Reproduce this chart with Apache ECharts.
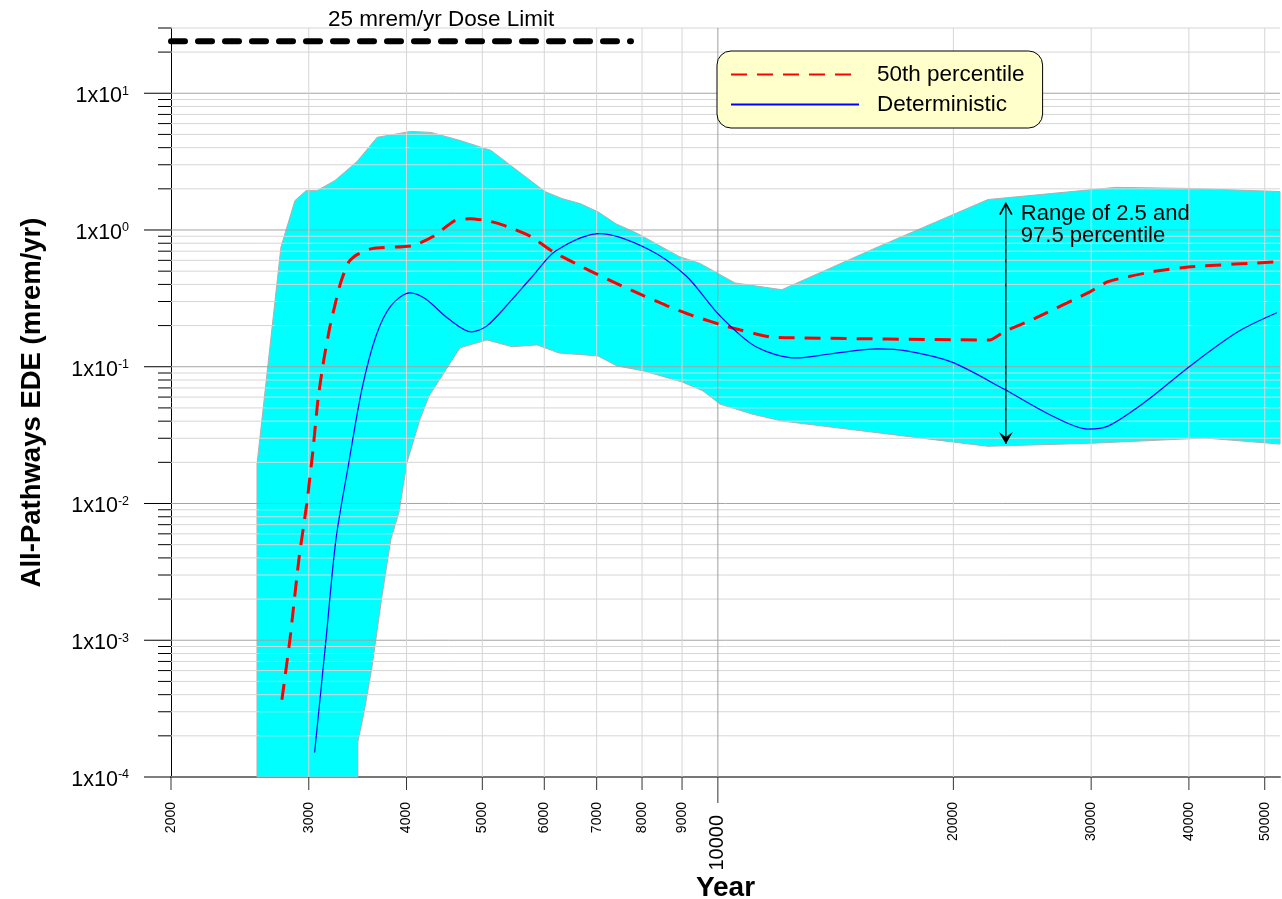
<!DOCTYPE html>
<html><head><meta charset="utf-8">
<script src="https://cdn.jsdelivr.net/npm/echarts@6/dist/echarts.min.js"></script>
<style>html,body{margin:0;padding:0;background:#fff}#c{width:1282px;height:899px}</style>
</head><body><div id="c"></div>
<script>
const FONT = 'Arial, "Liberation Sans", Helvetica, sans-serif';

// ---- axes ----
const X_MIN = 2000, X_MAX = 52300, Y_MIN = 1e-4, Y_MAX = 30;
const xTickYears = [2000, 3000, 4000, 5000, 6000, 7000, 8000, 9000, 10000, 20000, 30000, 40000, 50000];
const xBigTick = 10000;
const yDecades = [1e-4, 1e-3, 1e-2, 1e-1, 1, 10];
const yMinorMultipliers = [2, 3, 4, 5, 6, 7, 8, 9];

// ---- 2.5 / 97.5 percentile band ----
const bandUpperYear  = [2576, 2576, 2764, 2880, 2976, 3074, 3240, 3458, 3668, 4052, 4298, 4682, 5129, 6012, 6318, 6665, 7026, 7409, 7904, 8921, 9487, 10516, 12072, 15826, 22140, 32267, 40583, 52300];
const bandUpperValue = [1e-4, 0.0194, 0.75, 1.64, 1.94, 1.94, 2.30, 3.17, 4.76, 5.26, 5.17, 4.52, 3.82, 1.91, 1.70, 1.56, 1.36, 1.11, 0.94, 0.64, 0.57, 0.41, 0.366, 0.73, 1.67, 2.05, 2.01, 1.91];
const bandLowerYear  = [3467, 3467, 3529, 3614, 3716, 3820, 3912, 4006, 4163, 4274, 4682, 5068, 5458, 5874, 6264, 7026, 7430, 8044, 8996, 9572, 10060, 11056, 12072, 20030, 22140, 30160, 41920, 52300];
const bandLowerValue = [1e-4, 1.81e-4, 2.94e-4, 6.4e-4, 1.99e-3, 5.47e-3, 8.6e-3, 0.0200, 0.0414, 0.0611, 0.1375, 0.157, 0.140, 0.1445, 0.126, 0.120, 0.1014, 0.0931, 0.0775, 0.0666, 0.0533, 0.0451, 0.0401, 0.0281, 0.0262, 0.0276, 0.0301, 0.0272];

// ---- 50th percentile ----
const p50Year  = [2772, 2838, 2914, 2984, 3038, 3083, 3137, 3194, 3250, 3298, 3376, 3458, 3614, 4077, 4324, 4612, 4822, 5068, 5330, 5768, 6154, 6864, 7430, 8044, 8610, 9294, 10300, 11660, 12182, 22270, 23200, 25340, 29890, 31520, 35980, 40583, 52300];
const p50Value = [3.67e-4, 1.01e-3, 3.90e-3, 0.0102, 0.0249, 0.0581, 0.114, 0.199, 0.303, 0.419, 0.586, 0.661, 0.731, 0.769, 0.896, 1.17, 1.21, 1.17, 1.08, 0.896, 0.695, 0.503, 0.405, 0.330, 0.279, 0.236, 0.196, 0.165, 0.163, 0.157, 0.180, 0.224, 0.353, 0.419, 0.496, 0.540, 0.586];

// ---- deterministic ----
const detYear  = [3052, 3156, 3250, 3376, 3508, 3656, 3820, 4040, 4229, 4526, 4842, 5068, 5426, 5803, 6210, 7066, 8126, 9104, 10060, 11186, 12600, 13908, 16014, 17494, 19912, 23200, 26800, 29700, 31520, 35140, 40120, 46200, 51820];
const detValue = [1.51e-4, 1.01e-3, 5.47e-3, 0.0200, 0.0687, 0.168, 0.279, 0.347, 0.314, 0.224, 0.180, 0.199, 0.299, 0.463, 0.706, 0.942, 0.73, 0.463, 0.236, 0.140, 0.116, 0.124, 0.135, 0.130, 0.108, 0.0687, 0.0435, 0.0350, 0.0368, 0.0552, 0.101, 0.180, 0.248];

// ---- dose limit & annotation ----
const doseLimitYear = [2000, 7744];
const doseLimitValue = [24, 24];
const annotationYear = 23340;
const annotationRange = [0.0272, 1.56];

const zip = (a, b) => a.map((v, i) => [v, b[i]]);

function bandRender(params, api) {
  const pts = [];
  for (let i = 0; i < bandUpperYear.length; i++) pts.push(api.coord([bandUpperYear[i], bandUpperValue[i]]));
  for (let i = bandLowerYear.length - 1; i >= 0; i--) pts.push(api.coord([bandLowerYear[i], bandLowerValue[i]]));
  return { type: 'polygon', shape: { points: pts }, style: { fill: '#00ffff', stroke: '#b0b0b0', lineWidth: 1 } };
}

function frameRender(params, api) {
  const ch = [];
  const line = (p1, p2, color, w) => ch.push({ type: 'line', shape: { x1: p1[0], y1: p1[1], x2: p2[0], y2: p2[1] }, style: { stroke: color, lineWidth: w || 1 } });
  yDecades.forEach(d => {
    const p = api.coord([X_MIN, d]);
    const q = api.coord([X_MAX, d]);
    if (d > Y_MIN) line([p[0], p[1]], [q[0], q[1]], '#a4a4a4');
    line([p[0] - 27, p[1]], [p[0], p[1]], '#000');
    yMinorMultipliers.forEach(m => {
      const v = d * m;
      if (v > Y_MAX + 1e-9) return;
      const a = api.coord([X_MIN, v]);
      const b = api.coord([X_MAX, v]);
      line([a[0], a[1]], [b[0], b[1]], '#d6d6d6');
      line([a[0] - 13, a[1]], [a[0], a[1]], '#000');
    });
  });
  xTickYears.forEach(yr => {
    const b = api.coord([yr, Y_MIN]);
    const t = api.coord([yr, Y_MAX]);
    const big = yr === xBigTick;
    if (yr > X_MIN) line([b[0], b[1]], [t[0], t[1]], big ? '#a0a0a0' : '#d6d6d6');
    line([b[0], b[1]], [b[0], b[1] + (big ? 26 : 13)], '#333');
    ch.push({
      type: 'text', x: b[0], y: b[1] + (big ? 38 : 25), rotation: Math.PI / 2,
      style: { text: String(yr), fontSize: big ? 20 : 14, fontFamily: FONT, fill: '#000', align: 'right', verticalAlign: 'middle' }
    });
  });
  return { type: 'group', children: ch };
}

function annotationRender(params, api) {
  const lo = api.coord([annotationYear, annotationRange[0]]);
  const hi = api.coord([annotationYear, annotationRange[1]]);
  return {
    type: 'group', children: [
      { type: 'line', shape: { x1: lo[0], y1: lo[1], x2: hi[0], y2: hi[1] }, style: { stroke: '#000', lineWidth: 1.3 } },
      { type: 'polyline', shape: { points: [[hi[0] - 6, hi[1] + 11], [hi[0], hi[1]], [hi[0] + 6, hi[1] + 11]] }, style: { stroke: '#000', lineWidth: 1.8, fill: null } },
      { type: 'polygon', shape: { points: [[lo[0], lo[1]], [lo[0] - 7, lo[1] - 12], [lo[0], lo[1] - 7], [lo[0] + 7, lo[1] - 12]] }, style: { fill: '#000' } },
      { type: 'text', x: hi[0] + 15, y: hi[1] - 1, style: { text: 'Range of 2.5 and\n97.5 percentile', fontSize: 22, fontFamily: FONT, fill: '#000', lineHeight: 22, verticalAlign: 'top', align: 'left' } }
    ]
  };
}

const chart = echarts.init(document.getElementById('c'));
chart.setOption({
  animation: false,
  backgroundColor: '#ffffff',
  textStyle: { fontFamily: FONT },
  title: { text: '25 mrem/yr Dose Limit', left: 328, top: 8, padding: 0,
    textStyle: { fontSize: 22.5, fontWeight: 'normal', color: '#000', fontFamily: FONT } },
  legend: {
    data: ['50th percentile', 'Deterministic'], orient: 'vertical', left: 717, top: 51,
    itemWidth: 128, itemHeight: 14, itemGap: 7, padding: [12, 18, 12, 13],
    backgroundColor: '#ffffcc', borderColor: '#000', borderWidth: 1, borderRadius: 14,
    itemStyle: { opacity: 0 },
    textStyle: { fontSize: 22.5, fontFamily: FONT, color: '#000', lineHeight: 22, padding: [0, 0, 0, 13] }
  },
  grid: { left: 171, right: 2, top: 28, bottom: 122, containLabel: false, outerBoundsMode: 'none' },
  xAxis: {
    type: 'log', logBase: 10, min: X_MIN, max: X_MAX,
    name: 'Year', nameLocation: 'middle', nameGap: 97,
    nameTextStyle: { fontSize: 28, fontWeight: 'bold', color: '#000', fontFamily: FONT },
    axisLine: { show: true, lineStyle: { color: '#777', width: 2 } },
    axisTick: { show: false }, axisLabel: { show: false }, splitLine: { show: false }
  },
  yAxis: {
    type: 'log', logBase: 10, min: Y_MIN, max: Y_MAX,
    name: 'All-Pathways EDE (mrem/yr)', nameLocation: 'middle', nameGap: 125,
    nameTextStyle: { fontSize: 27.5, fontWeight: 'bold', color: '#000', fontFamily: FONT },
    axisLine: { show: true, lineStyle: { color: '#000', width: 1 } },
    axisTick: { show: false }, splitLine: { show: false },
    axisLabel: {
      margin: 42, showMaxLabel: false,
      formatter: v => {
        const l = Math.log10(v), e = Math.round(l);
        if (Math.abs(l - e) > 1e-6) return '';
        return '{a|1x10}{b|' + e + '}';
      },
      padding: [6, 0, 0, 0],
      rich: {
        a: { fontSize: 21.5, fontFamily: FONT, color: '#000', lineHeight: 23 },
        b: { fontSize: 12.5, fontFamily: FONT, color: '#000', verticalAlign: 'top', lineHeight: 23 }
      }
    }
  },
  series: [
    { type: 'custom', name: 'band', z: 1, silent: true, renderItem: bandRender, data: [[X_MIN, Y_MIN]] },
    { type: 'custom', name: 'frame', z: 2, silent: true, clip: false, renderItem: frameRender, data: [[X_MIN, Y_MIN]] },
    { type: 'line', name: '50th percentile', z: 4, data: zip(p50Year, p50Value), symbol: 'none', smooth: 0.2,
      lineStyle: { color: '#ff0000', width: 3, type: [16, 10] }, itemStyle: { color: '#ff0000' } },
    { type: 'line', name: 'Deterministic', z: 5, data: zip(detYear, detValue), symbol: 'none', smooth: 0.3,
      lineStyle: { color: '#0000ff', width: 1.2 }, itemStyle: { color: '#0000ff' } },
    { type: 'line', name: 'dose', z: 5, data: zip(doseLimitYear, doseLimitValue), symbol: 'none',
      lineStyle: { color: '#000', width: 6, type: [14, 13], cap: 'round' } },
    { type: 'custom', name: 'annotation', z: 6, silent: true, clip: false, renderItem: annotationRender, data: [[annotationYear, annotationRange[0]]] }
  ]
});
</script></body></html>
